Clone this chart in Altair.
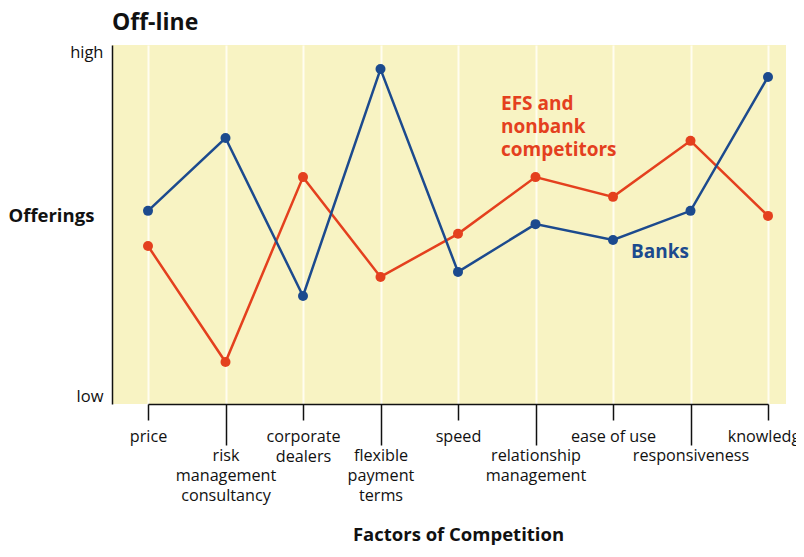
import altair as alt
import pandas as pd

categories = ["price", "risk management consultancy", "corporate dealers",
              "flexible payment terms", "speed", "relationship management",
              "ease of use", "responsiveness", "knowledge"]
tick_labels = ["price", "risk|management|consultancy", "corporate|dealers",
               "flexible|payment|terms", "speed", "relationship|management",
               "ease of use", "responsiveness", "knowledge"]
banks = [53.8, 74.1, 30.1, 93.3, 36.8, 50.1, 45.7, 53.8, 91.1]
efs = [44.0, 11.7, 63.2, 35.4, 47.4, 63.2, 57.7, 73.3, 52.4]

series_names = ["EFS and nonbank competitors", "Banks"]
series_colors = ["#e4401e", "#1c4a8e"]

ann_text = [["EFS and", "nonbank", "competitors"], ["Banks"]]
ann_cat = ["speed", "ease of use"]
ann_y = [86.0, 42.3]

rows = []
for s, vals in zip(series_names, [efs, banks]):
    for i, (c, v) in enumerate(zip(categories, vals)):
        rows.append({"series": s, "factor": c, "value": v, "order": i})
df = pd.DataFrame(rows)
ann = pd.DataFrame({"text": ann_text, "factor": ann_cat, "value": ann_y,
                    "series": series_names})

label_map = "{" + ",".join(f"'{c}':'{l}'" for c, l in zip(categories, tick_labels)) + "}"
FONT = "Open Sans"

odd_test = "indexof(" + str(categories[1::2]).replace('"', "'") + ", datum.value) >= 0"

x_enc = alt.X(
    "factor:N", sort=categories,
    scale=alt.Scale(range=[36, 656], padding=0),
    axis=alt.Axis(
        title="Factors of Competition", titleFont=FONT, titleFontSize=18.5,
        titleFontWeight="bold", titleColor="#111", titleY=130, titleBaseline="middle",
        labelAngle=0, labelFont=FONT, labelFontSize=16.2, labelColor="#111",
        labelBaseline="top", labelLineHeight=20,
        labelExpr=f"split({label_map}[datum.value], '|')",
        tickSize={"condition": {"test": odd_test, "value": 41}, "value": 16},
        labelPadding={"condition": {"test": odd_test, "value": 2}, "value": 8},
        tickColor="#111", tickWidth=1.5, domainColor="#111", domainWidth=1.5,
        grid=True, gridColor="#fffdf0", gridWidth=2, labelOverlap=False,
    ),
)
y_scale = alt.Scale(domain=[0, 100], nice=False)
y_enc = alt.Y(
    "value:Q", scale=y_scale,
    axis=alt.Axis(
        title="Offerings", titleAngle=0, titleAlign="left", titleBaseline="middle",
        titleX=-104, titleY=170, titleFont=FONT, titleFontSize=18.5,
        titleFontWeight="bold", titleColor="#111",
        values=[2, 98], labelExpr="datum.value > 50 ? 'high' : 'low'",
        labelFont=FONT, labelFontSize=16.5, labelColor="#111", labelPadding=9,
        ticks=False, grid=False, domainColor="#111", domainWidth=1.5,
    ),
)
color = alt.Color("series:N", scale=alt.Scale(domain=series_names, range=series_colors),
                  legend=None)

base = alt.Chart(df).encode(x=x_enc, y=y_enc, color=color,
                            order=alt.Order("order:Q"))
lines = base.mark_line(strokeWidth=2.5)
points = base.mark_point(filled=True, size=100, opacity=1)

efs_text = alt.Chart(ann).transform_filter(alt.datum.series == series_names[0]).mark_text(
    align="left", baseline="top", font=FONT, fontSize=19, fontWeight="bold",
    lineHeight=23, dx=43,
).encode(x=alt.X("factor:N", sort=categories), y=alt.Y("value:Q", scale=y_scale),
         text="text", color=color)
bank_text = alt.Chart(ann).transform_filter(alt.datum.series == series_names[1]).mark_text(
    align="left", baseline="middle", font=FONT, fontSize=19, fontWeight="bold", dx=18,
).encode(x=alt.X("factor:N", sort=categories), y=alt.Y("value:Q", scale=y_scale),
         text="text", color=color)

chart = alt.layer(lines, points, efs_text, bank_text).properties(
    width=674, height=359,
    autosize=alt.AutoSizeParams(type="none"),
    padding={"left": 104, "top": 37, "right": 10, "bottom": 141},
    title=alt.TitleParams("Off-line", anchor="start", frame="group", font=FONT,
                          fontSize=23, fontWeight="bold", color="#111", offset=9),
).configure_view(fill="#f8f3c3", stroke=None)

chart.save("out.html", embed_options={"renderer": "svg", "actions": False})
